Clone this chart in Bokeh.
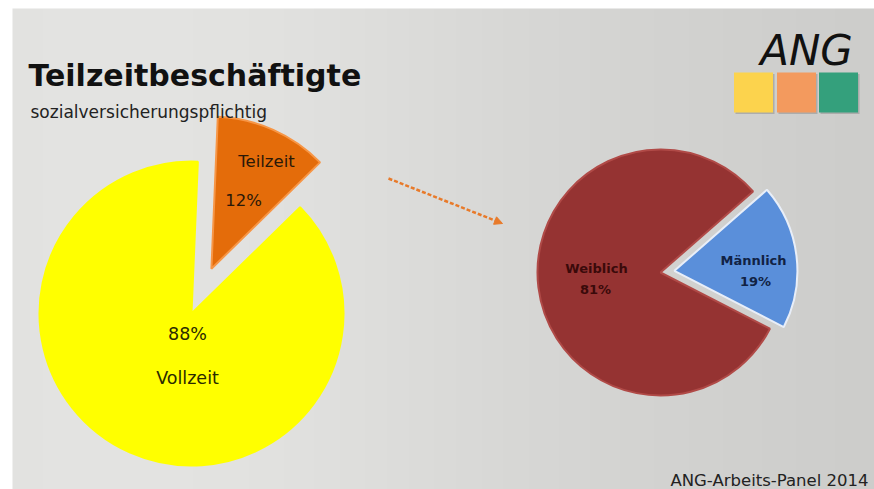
import numpy as np
from bokeh.plotting import figure
from bokeh.models import Range1d, Arrow, NormalHead
from bokeh.core.properties import value
from bokeh.embed import file_html
from bokeh.resources import INLINE

# ---- data ----
left_labels = ["Teilzeit", "Vollzeit"]
left_shares = [12, 88]
left_colors = ["#E46C0A", "#FFFF00"]
right_labels = ["Männlich", "Weiblich"]
right_shares = [19, 81]
right_colors = ["#5A8FDA", "#953332"]
title = "Teilzeitbeschäftigte"
subtitle = "sozialversicherungspflichtig"
footer = "ANG-Arbeits-Panel 2014"
logo = "ANG"
logo_colors = ["#FCD34D", "#F39A5E", "#34A07C"]

W, H = 874, 489


def Y(yref):
    # reference y (downwards, px) -> data y (upwards)
    return H - yref


p = figure(width=W, height=H, x_range=Range1d(0, W), y_range=Range1d(0, H),
           output_backend="svg", toolbar_location=None, min_border=0)
p.axis.visible = False
p.grid.visible = False
p.outline_line_color = None
p.background_fill_color = "white"
p.border_fill_color = "white"

# ---- background gradient (brushed metal look) ----
BX0, BY0 = 12, 8
nx, ny = 200, 110
gx = np.linspace(0, 1, nx)[None, :]
gy = np.linspace(0, 1, ny)[:, None]   # 0 bottom, 1 top
base = 0xE0 - 14 * gx ** 1.3 - 5 * (1 - gy) * gx + 6 * np.exp(-((gx - 0.25) ** 2) / 0.08)
base = base - 5 * gy * gx
base = np.clip(base, 0, 255)
img = np.empty((ny, nx), dtype=np.uint32)
view = img.view(dtype=np.uint8).reshape((ny, nx, 4))
view[:, :, 0] = base.astype(np.uint8)
view[:, :, 1] = base.astype(np.uint8)
view[:, :, 2] = (base - 2).clip(0, 255).astype(np.uint8)
view[:, :, 3] = 255
p.image_rgba(image=[img], x=BX0, y=0, dw=W - BX0, dh=H - BY0)


# ---- pies ----
def pie(cx, cy, r, shares, colors, start_deg, explode, outlines):
    total = float(sum(shares))
    ang = np.radians(start_deg)
    for i, (s, c) in enumerate(zip(shares, colors)):
        span = 2 * np.pi * s / total
        a0, a1 = ang, ang + span
        mid = (a0 + a1) / 2
        ox = explode[i] * np.cos(mid)
        oy = explode[i] * np.sin(mid)
        p.wedge(x=[cx + ox], y=[cy + oy], radius=r, start_angle=[a0], end_angle=[a1],
                fill_color=c, line_color=outlines[i], line_width=2)
        ang = a1


# left pie: Teilzeit (first slice) centred at ~66 deg
lt = 360.0 * left_shares[0] / sum(left_shares)
pie(191, Y(313), 152, left_shares, left_colors, 66 - lt / 2,
    [49, 0], ["#F79646", "#FFFF00"])

# right pie: Männlich (first slice) centred at ~7 deg
rt = 360.0 * right_shares[0] / sum(right_shares)
pie(660, Y(272), 123, right_shares, right_colors, 7 - rt / 2,
    [14, 0], ["#E8EEF8", "#B04A47"])

# ---- labels ----
F = value("DejaVu Sans")


def txt(x, yref, t, size, color="#1a1a1a", style="normal", font=F, align="center", base="middle"):
    p.text(x=[x], y=[Y(yref)], text=[t], text_font=font, text_font_size=size,
           text_font_style=style, text_color=color, text_align=align, text_baseline=base)


txt(28, 75, title, "30px", "#111111", "bold", align="left", base="alphabetic")
txt(30, 111, subtitle, "17px", "#222222", align="left", base="alphabetic")

txt(266, 161, left_labels[0], "16.5px", "#2a1808")
txt(243, 200, f"{left_shares[0]}%", "16.5px", "#2a1808")
txt(187, 333, f"{left_shares[1]}%", "17.5px", "#2a2a00")
txt(187, 377, left_labels[1], "17.5px", "#2a2a00")

txt(596, 268, right_labels[1], "13px", "#3a0a0a", "bold")
txt(595, 289, f"{right_shares[1]}%", "13px", "#3a0a0a", "bold")
txt(753, 260, right_labels[0], "13px", "#112244", "bold")
txt(755, 281, f"{right_shares[0]}%", "13px", "#112244", "bold")

txt(868, 480, footer, "16.5px", "#222222", align="right", base="alphabetic")

# ---- logo ----
txt(806, 50, logo, "42px", "#111111", "italic", align="center", base="alphabetic")
sq_x = [753, 796, 838]
for i, c in enumerate(logo_colors):
    p.rect(x=[sq_x[i] + 1.5], y=[Y(93.5)], width=39, height=40, fill_color="#8a8a8a",
           line_color=None, fill_alpha=0.5)
    p.rect(x=[sq_x[i]], y=[Y(92)], width=39, height=40, fill_color=c, line_color=None)

# ---- dashed arrow ----
p.add_layout(Arrow(end=NormalHead(size=8, fill_color="#E87A2A", line_color="#E87A2A"),
                   x_start=388, y_start=Y(178), x_end=502, y_end=Y(223),
                   line_color="#E87A2A", line_width=2.5, line_dash="4 2"))

open("out.html", "w").write(file_html(p, INLINE))
